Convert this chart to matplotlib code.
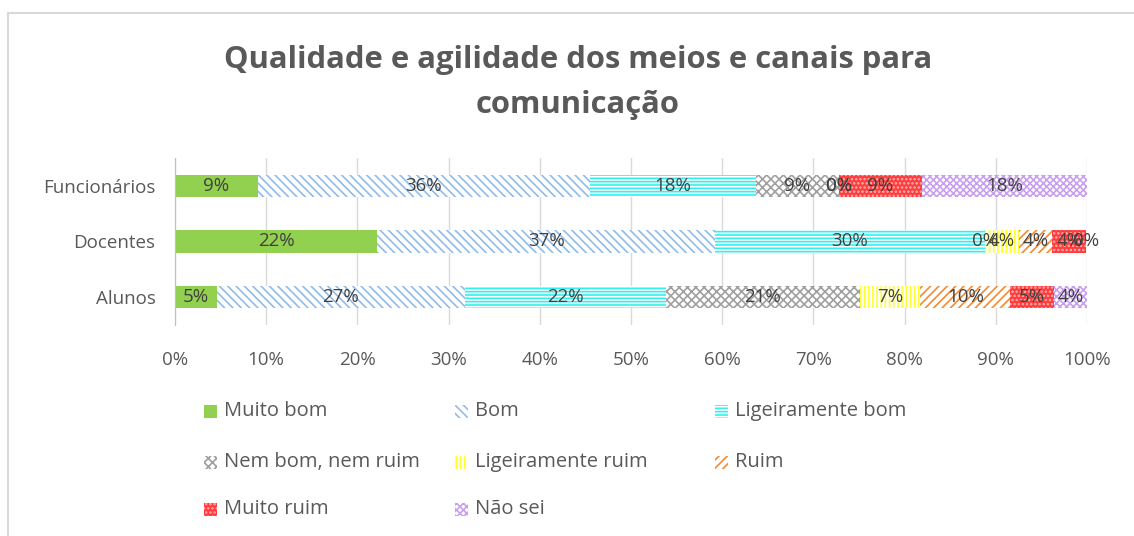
import matplotlib
matplotlib.use("Agg")
import matplotlib.pyplot as plt
from matplotlib.patches import Rectangle
import numpy as np

plt.rcParams['font.family'] = ['Open Sans', 'DejaVu Sans']
plt.rcParams['hatch.linewidth'] = 1.2

categories = ["Alunos", "Docentes", "Funcionários"]
series_names = ["Muito bom", "Bom", "Ligeiramente bom", "Nem bom, nem ruim",
                "Ligeiramente ruim", "Ruim", "Muito ruim", "Não sei"]
# percentages per category (Alunos, Docentes, Funcionários)
muito_bom = [4.6, 22.2, 9.1]
bom = [27.2, 37.0, 36.4]
lig_bom = [22.0, 29.6, 18.2]
nem = [21.3, 0.0, 9.1]
lig_ruim = [6.6, 3.7, 0.0]
ruim = [9.9, 3.7, 0.0]
muito_ruim = [4.8, 3.7, 9.1]
nao_sei = [3.6, 0.0, 18.1]
series_values = [muito_bom, bom, lig_bom, nem, lig_ruim, ruim, muito_ruim, nao_sei]
x_ticks = [0, 10, 20, 30, 40, 50, 60, 70, 80, 90, 100]

# styles: (facecolor, hatchcolor, hatch)
styles = [
    ("#92D050", "#92D050", None),
    ("white", "#8FBCEB", "\\\\\\\\"),
    ("white", "#33F0F0", "-----"),
    ("white", "#A0A0A0", "xxxx"),
    ("white", "#FFFF33", "||||"),
    ("white", "#F58A30", "////"),
    ("#FF3B3B", "#FFB0B0", "...."),
    ("white", "#C9A0F0", "xxxxx"),
]

W, H = 1134, 536
fig = plt.figure(figsize=(W / 100, H / 100), dpi=100)
fig.patches.append(Rectangle((7.5 / W, -0.05), 1.2, 1.05 - 13 / H,
                             transform=fig.transFigure, fill=False,
                             edgecolor="#D9D9D9", linewidth=1.5))

ax = fig.add_axes([175 / W, 1 - 325 / H, (1087 - 175) / W, (325 - 158) / H])
y = np.arange(len(categories))
left = np.zeros(len(categories))
text_color = "#404040"
for vals, (fc, hc, hatch) in zip(series_values, styles):
    vals = np.array(vals)
    ax.barh(y, vals, left=left, height=0.4, color=fc, edgecolor=hc,
            hatch=hatch, linewidth=0, zorder=2)
    for yi, (l, v) in enumerate(zip(left, vals)):
        ax.text(l + v / 2, yi, f"{round(v):.0f}%", ha="center", va="center",
                fontsize=13.5, color=text_color, zorder=3)
    left += vals

ax.set_xlim(0, 100)
ax.set_ylim(-0.5, 2.5)
ax.set_yticks(y)
ax.set_yticklabels(categories, fontsize=13.5, color="#595959")
ax.set_xticks(x_ticks)
ax.set_xticklabels([f"{t}%" for t in x_ticks], fontsize=13.5, color="#595959")
ax.tick_params(axis="both", length=0)
ax.tick_params(axis="x", pad=19)
ax.tick_params(axis="y", pad=14)
ax.grid(axis="x", color="#D9D9D9", linewidth=1, zorder=0)
for s in ["top", "right", "bottom"]:
    ax.spines[s].set_visible(False)
ax.spines["left"].set_color("#BFBFBF")

fig.text(578 / W, 1 - 60 / H, "Qualidade e agilidade dos meios e canais para",
         ha="center", va="center", fontsize=22.3, fontweight="bold", color="#595959")
fig.text(578 / W, 1 - 105 / H, "comunicação",
         ha="center", va="center", fontsize=22.3, fontweight="bold", color="#595959")

# legend
leg_x = [204, 455, 715]
leg_y = [411, 462, 509]
for i, (name, (fc, hc, hatch)) in enumerate(zip(series_names, styles)):
    r, c = divmod(i, 3)
    x0, y0 = leg_x[c], leg_y[r]
    fig.patches.append(Rectangle((x0 / W, 1 - (y0 + 7) / H), 13 / W, 13 / H,
                                 transform=fig.transFigure, facecolor=fc,
                                 edgecolor=hc, hatch=hatch, linewidth=0))
    fig.text((x0 + 20) / W, 1 - y0 / H, name, ha="left", va="center",
             fontsize=14.5, color="#595959")

fig.savefig("out.png", dpi=100, facecolor="white")
